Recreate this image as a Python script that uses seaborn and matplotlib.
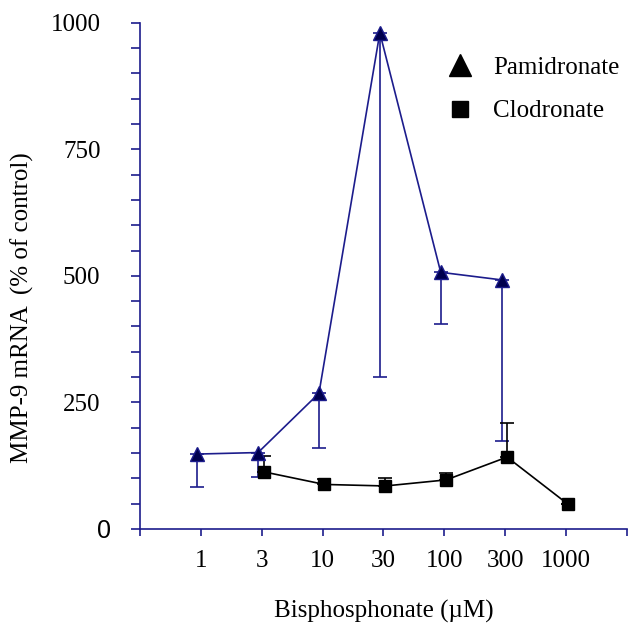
import matplotlib
matplotlib.use('Agg')
import matplotlib.pyplot as plt
import matplotlib.transforms as mtransforms
from matplotlib.lines import Line2D
import numpy as np
import pandas as pd
import seaborn as sns

# concentrations (uM), shown as equally spaced categories
concentrations = ['1', '3', '10', '30', '100', '300', '1000']

pam_mean = [148, 151, 268, 980, 507, 492, np.nan]
pam_err_low = [65, 48, 109, 680, 102, 318, np.nan]

clo_mean = [np.nan, 113, 88, 85, 97, 142, 49]
clo_err_up = [np.nan, 31, 11, 16, 13, 68, 0]

y_major = [0, 250, 500, 750, 1000]

NAVY = '#1c1c8c'
PAM_FACE = '#00004e'
# small horizontal dodge of the two series around each category
PAM_SHIFT = -0.06
CLO_SHIFT = 0.03

cat_pos = np.arange(1, len(concentrations) + 1)

df = pd.concat([
    pd.DataFrame({'drug': 'Pamidronate', 'x': cat_pos + PAM_SHIFT,
                  'value': pam_mean, 'low': pam_err_low, 'up': 0.0}),
    pd.DataFrame({'drug': 'Clodronate', 'x': cat_pos + CLO_SHIFT,
                  'value': clo_mean, 'low': 0.0, 'up': clo_err_up}),
]).dropna(subset=['value'])

sns.set_theme(style='ticks')
plt.rcParams['font.family'] = ['Liberation Serif', 'DejaVu Serif']
plt.rcParams['font.size'] = 18
plt.rcParams['text.color'] = 'black'
plt.rcParams['axes.labelcolor'] = 'black'
plt.rcParams['xtick.labelcolor'] = 'black'
plt.rcParams['ytick.labelcolor'] = 'black'

fig = plt.figure(figsize=(6.28, 6.27), dpi=100)
ax = fig.add_axes([0.2229, 0.1563, 0.7755, 0.8075])

# error bars first so the markers sit on top
pam = df[df['drug'] == 'Pamidronate']
clo = df[df['drug'] == 'Clodronate']
ax.errorbar(pam['x'], pam['value'], yerr=[pam['low'], pam['up']], fmt='none',
            ecolor=NAVY, elinewidth=1.2, capsize=5, capthick=1.2, zorder=1.5)
ax.errorbar(clo['x'], clo['value'], yerr=[clo['low'], clo['up']], fmt='none',
            ecolor='black', elinewidth=1.2, capsize=5, capthick=1.2, zorder=1.5)

sns.lineplot(
    data=df, x='x', y='value', hue='drug', style='drug',
    hue_order=['Pamidronate', 'Clodronate'],
    palette={'Pamidronate': NAVY, 'Clodronate': 'black'},
    markers={'Pamidronate': '^', 'Clodronate': 's'},
    dashes=False, markersize=9, linewidth=1.2, legend=False, ax=ax,
)
for line, face, ms in zip(ax.lines[-2:], [PAM_FACE, 'black'], [10.5, 9]):
    line.set_markerfacecolor(face)
    line.set_markeredgecolor(line.get_color())
    line.set_markeredgewidth(1.0)
    line.set_markersize(ms)

ax.set_xlim(0, len(concentrations) + 1)
ax.set_ylim(0, 1000)
ax.set_xticks(np.arange(0, len(concentrations) + 2))
ax.set_xticklabels([''] + concentrations + [''])
ax.set_yticks(y_major)
ax.set_yticks(np.arange(0, 1001, 50), minor=True)

for side in ['top', 'right']:
    ax.spines[side].set_visible(False)
for side in ['left', 'bottom']:
    ax.spines[side].set_color(NAVY)
    ax.spines[side].set_linewidth(1.2)

ax.tick_params(axis='x', which='major', length=5, width=1.2, color=NAVY,
               pad=10, labelsize=18, labelcolor='black')
ax.tick_params(axis='y', which='both', length=6.5, width=1.2, color=NAVY,
               pad=22, labelsize=18, labelcolor='black')

# the zero label is set in a sans face in the original, a bit closer to the axis
zero_lbl = ax.get_yticklabels()[0]
zero_lbl.set_fontfamily(['Liberation Sans', 'DejaVu Sans'])
zero_lbl.set_transform(zero_lbl.get_transform()
                       + mtransforms.ScaledTranslation(11 / 100, 0, fig.dpi_scale_trans))

ax.set_xlabel('Bisphosphonate (\u00b5M)', fontsize=18, color='black')
ax.set_ylabel('MMP-9 mRNA  (% of control)', fontsize=18, color='black')
ax.xaxis.set_label_coords(0.5, -0.14)
ax.yaxis.set_label_coords(-0.218, 0.438)

handles = [
    Line2D([], [], linestyle='none', marker='^', markersize=16,
           color='black', label='Pamidronate'),
    Line2D([], [], linestyle='none', marker='s', markersize=11.5,
           color='black', label='Clodronate'),
]
leg = ax.legend(handles=handles, loc='upper left', bbox_to_anchor=(0.632, 0.933),
                frameon=False, fontsize=18, handlelength=1.0, handletextpad=0.8,
                labelspacing=0.83, borderpad=0, borderaxespad=0)
for txt in leg.get_texts():
    txt.set_color('black')

fig.savefig('out.png', dpi=100)
